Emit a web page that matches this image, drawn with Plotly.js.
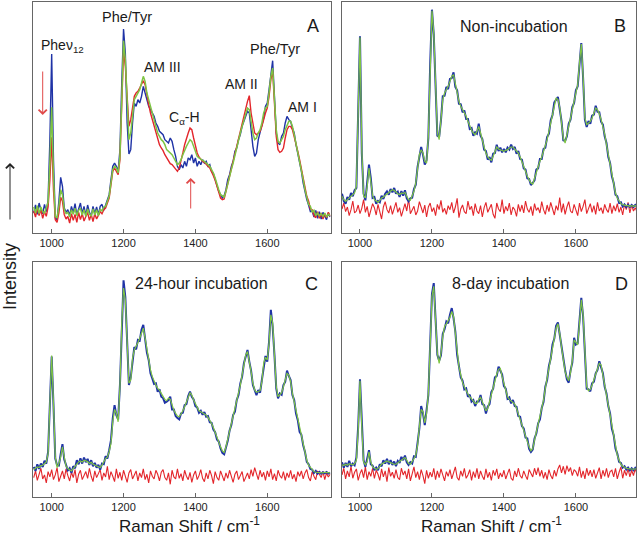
<!DOCTYPE html>
<html><head><meta charset="utf-8">
<script src="https://cdn.plot.ly/plotly-3.0.1.min.js"></script>
<style>html,body{margin:0;padding:0;background:#fff}#chart{width:640px;height:539px}</style>
</head><body><div id="chart"></div>
<script>
// Raman shift grid (cm-1)
const ramanShift = [
950,955,960,965,970,975,980,985,990,995,
1000,1005,1010,1015,1020,1025,1030,1035,1040,1045,
1050,1055,1060,1065,1070,1075,1080,1085,1090,1095,
1100,1105,1110,1115,1120,1125,1130,1135,1140,1145,
1150,1155,1160,1165,1170,1175,1180,1185,1190,1195,
1200,1205,1210,1215,1220,1225,1230,1235,1240,1245,
1250,1255,1260,1265,1270,1275,1280,1285,1290,1295,
1300,1305,1310,1315,1320,1325,1330,1335,1340,1345,
1350,1355,1360,1365,1370,1375,1380,1385,1390,1395,
1400,1405,1410,1415,1420,1425,1430,1435,1440,1445,
1450,1455,1460,1465,1470,1475,1480,1485,1490,1495,
1500,1505,1510,1515,1520,1525,1530,1535,1540,1545,
1550,1555,1560,1565,1570,1575,1580,1585,1590,1595,
1600,1605,1610,1615,1620,1625,1630,1635,1640,1645,
1650,1655,1660,1665,1670,1675,1680,1685,1690,1695,
1700,1705,1710,1715,1720,1725,1730,1735,1740,1745,
1750,1755,1760,1765,1770,1775];

// Panel A
const aBlue = [
60,84,56,90,70,58,86,64,98,280,
537,220,45,40,95,167,140,75,62,70,
52,80,60,88,54,76,90,58,80,52,
84,62,50,80,58,78,54,80,86,68,
85,100,115,160,200,210,200,185,250,450,
612,540,330,237,250,330,390,380,400,390,
410,440,420,395,380,370,360,350,330,320,
305,300,295,280,275,270,285,275,250,230,
200,190,205,195,215,200,225,220,235,210,
225,200,215,205,220,210,215,200,205,185,
178,160,140,125,115,105,112,130,160,175,
200,215,245,255,280,295,320,335,350,365,
360,300,260,230,240,280,300,325,345,380,
390,430,480,517,410,300,270,265,290,300,
330,350,340,335,315,300,265,240,215,185,
150,120,100,84,64,66,48,68,44,64,
42,62,50,40,60,48];
const aRed = [
66,48,76,52,70,44,64,50,78,160,
287,130,40,32,60,107,95,55,42,50,
30,58,38,56,32,62,40,58,36,52,
62,38,56,34,58,42,56,64,58,70,
75,90,105,145,185,195,185,175,220,380,
547,500,400,320,340,380,410,420,425,435,
445,457,445,410,385,360,340,320,300,280,
265,255,247,235,225,215,208,205,198,190,
185,195,215,240,265,285,300,315,310,285,
260,240,228,220,215,212,205,200,195,185,
172,158,140,120,105,100,102,125,148,172,
195,215,240,265,290,310,335,355,375,395,
412,360,330,300,295,300,305,320,345,360,
375,410,460,487,390,290,250,242,245,255,
285,310,320,320,310,290,270,245,220,190,
165,135,110,96,72,70,52,46,64,44,
60,42,58,46,62,50];
const aGreen = [
78,60,82,58,78,64,60,80,92,210,
377,170,50,45,80,130,115,70,58,62,
48,70,56,74,52,68,74,54,70,50,
72,56,52,72,54,70,52,72,66,78,
80,95,110,150,190,200,195,180,230,400,
577,520,380,280,300,360,400,410,420,430,
450,470,455,420,400,380,360,345,320,300,
290,280,275,265,250,245,240,235,225,215,
205,210,220,235,250,260,270,280,275,260,
240,230,225,220,218,215,210,205,200,190,
180,165,145,130,115,110,108,125,150,170,
190,210,235,260,280,300,320,340,360,375,
370,330,300,280,285,300,310,330,360,375,
380,420,470,495,400,310,275,270,280,290,
310,325,335,335,320,295,270,245,220,190,
160,130,108,86,80,62,68,52,60,52,
58,50,60,48,56,52];

// Panel B: Non-incubation
const bBlue = [
118,96,88,108,100,120,110,128,135,345,
590,240,118,98,150,205,165,105,108,88,
96,92,112,102,118,125,115,132,122,135,
118,124,108,126,112,128,104,95,104,106,
132,145,198,228,258,235,205,218,285,505,
670,595,445,292,288,338,410,412,438,432,
462,465,482,438,428,388,386,362,368,342,
342,312,315,292,302,298,328,292,282,250,
246,220,228,212,238,240,265,246,256,242,
252,242,256,250,265,252,258,238,246,222,
220,194,190,164,162,144,150,158,190,194,
222,222,252,256,288,298,338,354,392,400,
408,372,336,278,276,290,328,340,378,390,
428,440,515,570,465,340,318,336,328,352,
355,382,364,362,334,325,290,270,228,210,
170,150,115,110,90,92,80,86,78,85,
78,84,78,84,79,82];
const bGreen = [
110,100,95,100,108,112,118,120,140,330,
587,250,112,105,140,195,160,112,100,95,
92,98,105,108,112,118,122,125,130,128,
122,118,115,120,118,122,110,100,98,110,
125,150,190,235,250,240,215,210,290,500,
667,600,440,300,280,345,400,420,430,440,
455,470,475,445,420,395,380,370,360,350,
335,320,308,300,295,305,320,300,275,258,
240,228,222,218,230,245,258,252,250,248,
245,248,250,255,258,258,252,245,240,228,
215,200,185,170,158,150,147,165,185,200,
215,228,245,262,280,305,330,360,385,405,
400,378,330,285,270,295,320,345,370,395,
420,445,510,567,470,345,325,330,335,345,
360,375,370,358,340,320,297,265,235,205,
175,145,120,105,95,88,85,83,82,82,
80,82,80,82,80,80];
const bRed = [
72,90,64,78,52,70,96,60,66,84,
58,74,100,62,80,48,68,88,76,54,
86,66,42,78,94,70,60,82,56,74,
92,62,76,50,70,88,66,102,58,72,
80,54,66,94,74,60,84,48,78,90,
64,76,52,86,70,98,62,74,56,82,
70,92,60,78,104,46,72,84,64,58,
96,70,80,52,88,66,58,82,48,76,
92,62,74,86,56,44,90,72,64,100,
58,80,66,90,54,78,70,50,86,64,
84,60,96,72,62,80,52,88,68,76,
60,94,70,56,84,64,92,74,54,82,
68,106,62,88,56,78,94,66,60,86,
70,52,90,64,80,100,58,74,88,62,
82,56,92,66,76,58,86,70,62,90,
58,82,66,88,62,78,54,86,70,92,
60,84,66,76,62,80];

// Panel C: 24-hour incubation
const cBlue = [
90,78,98,84,100,90,108,100,135,310,
420,275,115,95,94,128,158,112,98,80,
86,72,92,86,110,98,116,100,118,104,
114,96,110,92,102,88,96,82,100,98,
122,115,140,170,235,275,245,232,335,530,
648,598,450,335,358,408,448,442,470,468,
500,515,470,432,410,370,355,338,340,315,
322,300,296,282,285,290,300,262,262,242,
236,232,250,252,275,278,302,315,300,292,
272,268,252,258,246,254,240,242,224,222,
202,194,172,166,145,132,128,148,168,198,
215,245,255,290,305,340,360,400,420,440,
405,378,335,316,305,320,312,350,395,422,
405,465,560,510,425,325,295,310,306,335,
345,378,362,350,305,290,250,230,195,186,
155,135,105,98,84,82,72,78,70,75,
70,74,71,75,70,73];
const cGreen = [
82,85,90,88,94,95,100,105,130,300,
423,280,120,88,100,120,150,120,92,85,
80,78,85,92,100,105,108,105,110,108,
106,100,104,98,96,92,90,88,95,105,
115,120,135,160,225,262,250,225,330,520,
625,590,458,340,350,415,440,450,462,475,
490,505,475,440,405,380,360,345,335,325,
320,310,300,292,288,296,292,272,260,250,
242,240,248,258,270,282,298,312,305,290,
278,265,258,255,252,250,245,238,230,220,
208,192,178,165,150,138,133,150,172,195,
220,242,260,285,310,335,365,395,425,435,
410,375,340,320,313,315,318,345,400,418,
410,460,545,520,430,330,300,305,312,330,
350,370,365,345,310,285,255,225,200,182,
160,130,110,95,88,80,76,74,73,72,
73,72,74,73,72,72];
const cRed = [
58,78,50,70,86,54,66,42,76,60,
82,52,66,88,46,62,78,54,84,64,
48,74,58,82,42,68,80,52,62,76,
56,86,62,46,78,58,70,82,50,72,
60,92,52,76,62,46,84,56,74,50,
80,60,44,72,82,54,66,78,48,72,
58,84,52,68,42,78,62,54,80,68,
48,74,82,58,50,72,38,80,60,54,
84,56,70,48,80,62,52,74,44,66,
78,52,64,82,56,46,72,54,80,64,
40,76,58,50,78,62,48,72,56,80,
58,44,68,78,52,64,76,46,60,72,
54,82,62,88,70,52,80,60,74,50,
78,60,84,52,70,48,80,64,56,76,
50,72,58,80,54,68,46,76,62,78,
54,72,82,58,48,76,62,52,78,66,
58,76,52,72,60,68];

// Panel D: 8-day incubation
const dBlue = [
104,88,102,90,108,92,100,95,118,212,
352,200,110,90,112,140,98,94,80,88,
80,98,92,110,100,114,98,110,96,106,
92,108,102,120,110,124,104,96,104,100,
122,120,162,205,272,250,215,258,305,455,
608,640,530,425,408,424,488,502,525,520,
545,565,535,495,425,395,358,348,322,325,
300,306,285,290,272,286,286,305,278,275,
250,270,278,314,324,358,362,390,380,366,
332,324,294,298,280,290,272,270,242,240,
212,205,178,175,144,135,142,175,190,220,
232,266,284,330,350,392,414,456,474,512,
522,484,452,404,380,352,342,378,402,476,
456,460,526,596,540,425,324,322,316,340,
345,370,380,406,390,370,330,310,272,250,
204,185,145,130,105,102,88,92,82,88,
80,86,80,87,81,85];
const dGreen = [
96,94,98,95,100,98,96,100,110,200,
348,210,105,96,105,135,105,90,85,83,
85,92,98,102,106,108,105,102,100,98,
98,102,108,112,116,118,110,100,98,105,
115,125,155,210,262,255,222,250,310,450,
600,630,540,430,400,430,480,510,518,528,
538,555,540,490,430,390,365,342,330,318,
308,300,292,285,280,280,292,298,285,270,
258,265,285,308,330,352,368,382,385,360,
340,318,300,292,288,284,278,265,248,235,
218,200,185,170,150,138,145,170,195,215,
238,260,290,325,355,385,420,450,480,505,
518,490,448,410,375,358,348,372,408,470,
462,455,520,590,545,420,330,318,322,335,
350,365,385,400,395,365,335,305,278,245,
210,180,150,125,110,98,92,88,86,85,
84,84,83,84,83,83];
const dRed = [
66,86,54,78,60,92,56,74,84,50,
70,82,58,90,52,76,62,86,56,80,
68,50,84,60,78,46,88,62,74,56,
82,58,52,86,66,78,54,84,48,72,
90,58,76,52,82,64,40,80,56,74,
60,86,52,78,58,84,66,48,76,62,
82,54,72,90,58,50,78,62,86,56,
66,82,50,76,58,86,54,78,62,52,
84,58,74,50,80,64,84,54,72,60,
80,54,70,84,56,50,78,60,86,64,
56,78,64,52,82,68,60,86,66,88,
62,80,56,74,52,82,64,54,80,62,
84,96,72,92,68,94,76,88,64,82,
76,62,90,58,78,54,86,64,80,60,
82,56,74,88,54,80,62,86,58,76,
80,60,86,54,74,90,56,80,64,84,
60,80,64,86,66,78];

const tickVals = [1000, 1200, 1400, 1600];
const tickText = ['1000', '1200', '1400', '1600'];
const panelNames = ['A', 'B', 'C', 'D'];
const panelTitles = ['', 'Non-incubation', '24-hour incubation', '8-day incubation'];

const BLUE = '#1f33a6', RED = '#e3262b', GREEN = '#7ec443';
function tr(xa, ya, y, color, width) {
  return {type: 'scatter', mode: 'lines', x: ramanShift, y: y, xaxis: xa, yaxis: ya,
    line: {color: color, width: width}, showlegend: false, hoverinfo: 'skip'};
}
const data = [
  tr('x', 'y', aBlue, BLUE, 1.4), tr('x', 'y', aRed, RED, 1.4), tr('x', 'y', aGreen, GREEN, 1.5),
  tr('x2', 'y2', bRed, RED, 1.1), tr('x2', 'y2', bBlue, BLUE, 2.0), tr('x2', 'y2', bGreen, GREEN, 1.2),
  tr('x3', 'y3', cRed, RED, 1.1), tr('x3', 'y3', cBlue, BLUE, 2.0), tr('x3', 'y3', cGreen, GREEN, 1.2),
  tr('x4', 'y4', dRed, RED, 1.1), tr('x4', 'y4', dBlue, BLUE, 2.0), tr('x4', 'y4', dGreen, GREEN, 1.2)
];

const FONT = 'Liberation Sans, Arial, sans-serif';
const FRAME = '#666666';
function xax(range, domain, anchor) {
  return {range: range, domain: domain, anchor: anchor, tickvals: tickVals, ticktext: tickText,
    ticks: 'inside', ticklen: 4, tickwidth: 1, tickcolor: FRAME, showline: true, linecolor: FRAME,
    linewidth: 1, mirror: true, showgrid: false, zeroline: false,
    tickfont: {family: FONT, size: 11, color: '#222'}};
}
function yax(range, domain, anchor) {
  return {range: range, domain: domain, anchor: anchor, showticklabels: false, ticks: '',
    showline: true, linecolor: FRAME, linewidth: 1, mirror: true, showgrid: false, zeroline: false};
}
const W = 640, H = 539;
const px = v => v / W, py = v => 1 - v / H;
const colL = [px(33), px(330.5)], colR = [px(342), px(636)];
const rowT = [py(233), py(2)], rowB = [py(497), py(262)];

function txt(text, x, y, size, extra) {
  return Object.assign({text: text, x: px(x), y: py(y), xref: 'paper', yref: 'paper',
    showarrow: false, xanchor: 'center', yanchor: 'middle',
    font: {family: FONT, size: size, color: '#1a1a1a'}}, extra || {});
}
function arrow(x, yHead, yTail, color) {
  return {text: '', x: px(x), y: py(yHead), xref: 'paper', yref: 'paper', showarrow: true,
    ax: 0, ay: yTail - yHead, arrowcolor: color, arrowwidth: 1, arrowhead: 4, arrowsize: 1.6,
    standoff: 0, startstandoff: 0};
}

const annotations = [
  txt('Pheν<sub>12</sub>', 62, 46, 14),
  txt('Phe/Tyr', 127, 17, 14.5),
  txt('AM III', 162, 67, 14),
  txt('C<sub>α</sub>-H', 184, 118, 14),
  txt('AM II', 241, 84, 14),
  txt('Phe/Tyr', 275, 49, 14.5),
  txt('AM I', 302, 107, 14),
  txt(panelNames[0], 313, 26, 18),
  txt(panelTitles[1], 514, 27, 16),
  txt(panelNames[1], 620, 26, 18),
  txt(panelTitles[2], 201, 283, 16),
  txt(panelNames[2], 311, 284, 18),
  txt(panelTitles[3], 510, 283, 16),
  txt(panelNames[3], 621, 284, 18),
  txt('Raman Shift / cm<sup>-1</sup>', 189, 525, 17),
  txt('Raman Shift / cm<sup>-1</sup>', 491, 525, 17),
  txt('Intensity', 10, 277, 18, {textangle: -90}),
  arrow(42.7, 115, 70, '#e04a4a'),
  arrow(190.7, 178, 210, '#e04a4a'),
  arrow(10, 163, 221, '#222222')
];

const layout = {
  width: W, height: H, margin: {l: 0, r: 0, t: 0, b: 0},
  paper_bgcolor: '#ffffff', plot_bgcolor: '#ffffff',
  font: {family: FONT, color: '#222'},
  xaxis: xax([948, 1776], colL, 'y'), yaxis: yax([0, 693], rowT, 'x'),
  xaxis2: xax([950, 1767], colR, 'y2'), yaxis2: yax([0, 693], rowT, 'x2'),
  xaxis3: xax([948, 1776], colL, 'y3'), yaxis3: yax([0, 703], rowB, 'x3'),
  xaxis4: xax([950, 1767], colR, 'y4'), yaxis4: yax([0, 703], rowB, 'x4'),
  annotations: annotations
};
Plotly.newPlot('chart', data, layout, {staticPlot: true, displayModeBar: false});
</script></body></html>
